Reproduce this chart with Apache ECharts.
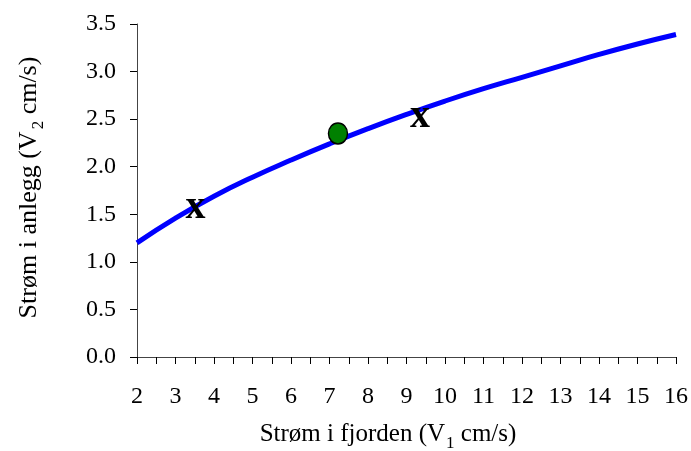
<!DOCTYPE html>
<html><head><meta charset="utf-8">
<script src="https://cdn.jsdelivr.net/npm/echarts@6/dist/echarts.min.js"></script>
<style>html,body{margin:0;padding:0;background:#fff}#c{width:691px;height:451px}</style>
</head><body><div id="c"></div>
<script>
var curveX = [2, 3, 4, 5, 6, 7, 8, 9, 10, 11, 12, 13, 14, 15, 16];
var curveY = [1.20, 1.46, 1.69, 1.89, 2.07, 2.24, 2.40, 2.55, 2.69, 2.82, 2.94, 3.06, 3.18, 3.29, 3.39];
var crossX = [3.52, 9.35];
var crossY = [1.56, 2.52];
var dotX = [7.22];
var dotY = [2.35];
var xTicks = [2,3,4,5,6,7,8,9,10,11,12,13,14,15,16];

var font = '"Liberation Serif","Times New Roman",serif';
var chart = echarts.init(document.getElementById('c'));
function pairs(a, b){ return a.map(function(v,i){ return [v, b[i]]; }); }
chart.setOption({
  animation: false,
  grid: {left: 137, right: 15, top: 24, bottom: 94, containLabel: false, outerBoundsMode: 'none'},
  xAxis: {
    type: 'value', min: 2, max: 16, interval: 0.5,
    axisLine: {show: true, lineStyle: {color: '#444', width: 1}},
    axisTick: {show: true, inside: false, length: 7, lineStyle: {color: '#000'}},
    splitLine: {show: false},
    axisLabel: {margin: 28, color: '#000', fontFamily: font, fontSize: 24,
      formatter: function(v){ return xTicks.indexOf(v) >= 0 ? String(v) : ''; }},
    name: '{n|Strøm i fjorden (V}{s|1}{n| cm/s)}',
    nameLocation: 'middle', nameGap: 63,
    nameTextStyle: {color: '#000', fontFamily: font, fontSize: 25, padding: [0, 37, 0, 0],
      rich: {n: {fontFamily: font, fontSize: 25, color: '#000', verticalAlign: 'bottom', lineHeight: 27},
             s: {fontFamily: font, fontSize: 17, color: '#000', verticalAlign: 'bottom', lineHeight: 27, padding: [0, 0, -5, 1]}}}
  },
  yAxis: {
    type: 'value', min: 0, max: 3.5, interval: 0.5,
    axisLine: {show: true, lineStyle: {color: '#444', width: 1}},
    axisTick: {show: true, inside: false, length: 7, lineStyle: {color: '#000'}},
    splitLine: {show: false},
    axisLabel: {margin: 21, color: '#000', fontFamily: font, fontSize: 24,
      formatter: function(v){ return v.toFixed(1); }},
    name: '{n|Strøm i anlegg (V}{s|2}{n| cm/s)}',
    nameLocation: 'middle', nameGap: 95, nameRotate: 90,
    nameTextStyle: {color: '#000', fontFamily: font, fontSize: 26, padding: [0, 0, 0, 6],
      rich: {n: {fontFamily: font, fontSize: 26, color: '#000', verticalAlign: 'bottom', lineHeight: 28},
             s: {fontFamily: font, fontSize: 17, color: '#000', verticalAlign: 'bottom', lineHeight: 28, padding: [0, 0, -5, 2]}}}
  },
  series: [
    {type: 'line', data: pairs(curveX, curveY), smooth: true, showSymbol: false,
     lineStyle: {color: '#0000ff', width: 5}, z: 2},
    {type: 'scatter', data: pairs(crossX, crossY), symbolSize: 1, itemStyle: {color: 'rgba(0,0,0,0)', opacity: 1},
     label: {show: true, position: 'inside', formatter: 'x', color: '#000', fontFamily: font,
       fontSize: 40, fontWeight: 'bold', offset: [0, -1]}, z: 3},
    {type: 'scatter', data: pairs(dotX, dotY), symbol: 'circle', symbolSize: [19, 21],
     itemStyle: {color: '#008000', borderColor: '#000', borderWidth: 1.5, opacity: 1}, z: 4}
  ]
});
</script></body></html>
